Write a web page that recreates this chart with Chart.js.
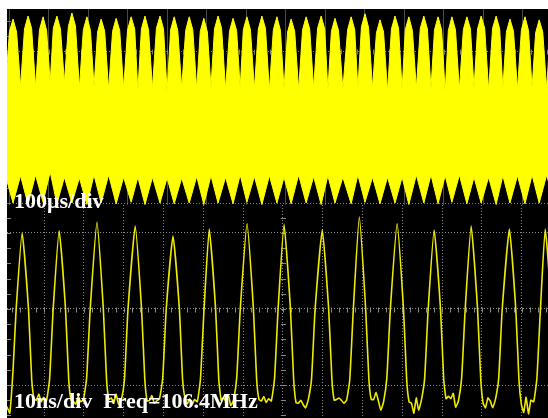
<!DOCTYPE html>
<html>
<head>
<meta charset="utf-8">
<title>Scope capture</title>
<script src="https://cdn.jsdelivr.net/npm/chart.js@4.4.1/dist/chart.umd.min.js"></script>
<style>
  body { margin: 0; background: #fff; }
  #screen { position: absolute; left: 7px; top: 9px; width: 541px; height: 409px; background: #000; overflow: hidden; }
  #screen canvas { position: absolute; left: 0; }
  #slow { top: 0; }
  #fast { top: 196px; }
  .label { position: absolute; left: 7px; color: #fff; font: bold 22px "Liberation Serif", "Times New Roman", serif; line-height: 22px; white-space: pre; }
</style>
</head>
<body>
<div id="screen">
  <canvas id="slow" width="541" height="196"></canvas>
  <canvas id="fast" width="541" height="213"></canvas>
  <div class="label" style="top:181px">100μs/div</div>
  <div class="label" style="top:381px">10ns/div  Freq=106.4MHz</div>
</div>
<script>
// upper trace, 100us/div: top edge of the carrier envelope (time in us, level in divisions)
const upperTime = [-10, 0, 9, 18, 28, 38, 47, 56, 66, 76, 85, 94, 103, 111, 120, 129, 139, 149, 158, 167, 177,
  187, 196, 205, 214, 223, 232, 241, 251, 261, 270, 279, 289, 299, 308, 317, 325, 334, 343, 352, 362,
  372, 381, 390, 399, 408, 417, 426, 436, 446, 455, 464, 474, 483, 492, 501, 510, 519, 528, 537, 547,
  557, 566, 575, 584, 592, 601, 610, 620, 630, 639, 648, 658, 668, 677, 686, 695, 704, 713, 722, 732,
  742, 751, 760, 770, 780, 789, 798, 806, 815, 824, 833, 844, 856, 865, 874, 882, 891, 900, 909, 919,
  929, 938, 947, 957, 967, 976, 985, 994, 1002, 1011, 1020, 1030, 1040, 1049, 1058, 1067, 1076, 1085, 1094, 1103,
  1111, 1120, 1129, 1139, 1149, 1158, 1167, 1176, 1185, 1194, 1203, 1213, 1223, 1232, 1241, 1249,
  1258, 1267, 1276, 1286, 1296, 1305, 1314, 1323, 1332, 1341, 1350, 1360, 1369, 1378];
const upperLevel = [0.55,
  1.26, 1.42, 1.25, 0.53, 1.29, 1.46, 1.30, 0.53, 1.28, 1.45, 1.27, 0.58, 1.30, 1.46, 1.29, 0.59,
  1.32, 1.50, 1.33, 0.51, 1.28, 1.45, 1.27, 0.53, 1.25, 1.42, 1.26, 0.49, 1.26, 1.43, 1.27, 0.51,
  1.28, 1.45, 1.29, 0.47, 1.29, 1.46, 1.28, 0.51, 1.30, 1.46, 1.29, 0.47, 1.28, 1.45, 1.27, 0.51,
  1.27, 1.45, 1.28, 0.50, 1.26, 1.43, 1.25, 0.52, 1.29, 1.46, 1.30, 0.49, 1.26, 1.43, 1.27, 0.51,
  1.28, 1.45, 1.28, 0.50, 1.29, 1.46, 1.30, 0.48, 1.28, 1.45, 1.27, 0.50, 1.25, 1.42, 1.26, 0.49,
  1.28, 1.45, 1.29, 0.51, 1.30, 1.46, 1.29, 0.48, 1.26, 1.43, 1.27, 0.50, 1.28, 1.45, 1.28, 0.50,
  1.32, 1.49, 1.31, 0.51, 1.24, 1.41, 1.25, 0.47, 1.29, 1.46, 1.30, 0.49, 1.28, 1.45, 1.27, 0.51,
  1.30, 1.46, 1.29, 0.50, 1.28, 1.45, 1.28, 0.46, 1.27, 1.45, 1.28, 0.49, 1.28, 1.45, 1.29, 0.51,
  1.29, 1.46, 1.30, 0.48, 1.30, 1.46, 1.29, 0.50, 1.25, 1.42, 1.26, 0.49, 1.28, 1.45, 1.27, 0.51,
  1.24, 1.41, 1.25, 0.50,
  1.27, 1.43];

// bottom edge of the envelope: dips under each crest, notches between them
const lowerTime = [-10, 9, 28, 47, 66, 85, 103, 120, 139, 158, 177, 196, 214, 232, 251, 270, 289, 308, 325,
  343, 362, 381, 399, 417, 436, 455, 474, 492, 510, 528, 547, 566, 584, 601, 620, 639, 658, 677, 695,
  713, 732, 751, 770, 789, 806, 824, 844, 865, 882, 900, 919, 938, 957, 976, 994, 1011, 1030, 1049, 1067,
  1085, 1103, 1120, 1139, 1158, 1176, 1194, 1213, 1232, 1249, 1267, 1286, 1305, 1323, 1341, 1360, 1378];
const lowerLevel = [-0.64, -1.00, -0.64, -1.02, -0.63, -0.99, -0.59, -1.01, -0.66, -1.00, -0.67, -1.02, -0.63,
  -1.00, -0.63, -1.01, -0.66, -0.99, -0.66, -1.02, -0.66, -1.00, -0.67, -1.01, -0.67, -1.00, -0.65, -1.02, -0.64,
  -1.00, -0.66, -1.01, -0.63, -0.99, -0.65, -1.02, -0.64, -1.00, -0.66, -1.01, -0.63, -1.00, -0.65, -1.02, -0.64,
  -1.00, -0.66, -1.01, -0.63, -0.99, -0.66, -1.01, -0.66, -1.00, -0.66, -1.02, -0.63, -1.00, -0.63, -1.01, -0.64,
  -0.99, -0.63, -1.01, -0.66, -1.00, -0.66, -1.02, -0.64, -1.00, -0.64, -1.01, -0.63, -1.00, -0.63, -1.00];

// lower trace, 10ns/div (time in ns, level in divisions)
const fastTime = [0.2, 0.8, 1.4, 2.2, 3.0,
  4.5, 6.1, 6.9, 7.5, 8.1, 8.7, 9.3, 9.9, 10.6, 11.4, 12.3,
  13.8, 15.4, 16.2, 16.8, 17.4, 18.0, 18.6, 19.2, 19.9, 20.7, 21.6,
  23.3, 24.9, 25.7, 26.3, 26.9, 27.5, 28.1, 28.7, 29.4, 30.2, 31.1,
  32.9, 34.5, 35.3, 35.9, 36.5, 37.1, 37.7, 38.3, 39.0, 39.8, 40.7,
  42.4, 44.0, 44.8, 45.4, 46.0, 46.6, 47.2, 47.8, 48.5, 49.3, 50.2,
  51.5, 53.1, 53.9, 54.5, 55.1, 55.7, 56.3, 56.9, 57.6, 58.4, 59.3,
  61.0, 62.6, 63.4, 64.0, 64.6, 65.2, 65.8, 66.4, 67.1, 67.9, 68.8,
  70.3, 71.9, 72.7, 73.3, 73.9, 74.5, 75.1, 75.7, 76.4, 77.2, 78.1,
  79.9, 81.5, 82.3, 82.9, 83.5, 84.1, 84.7, 85.3, 86.0, 86.8, 87.7,
  89.2, 90.8, 91.6, 92.2, 92.8, 93.4, 94.0, 94.6, 95.3, 96.1, 97.0,
  98.7, 100.3, 101.1, 101.7, 102.3, 102.9, 103.5, 104.1, 104.8, 105.6, 106.5,
  108.0, 109.6, 110.4, 111.0, 111.6, 112.2, 112.8, 113.4, 114.1, 114.9, 115.8,
  117.3, 118.9, 119.7, 120.3, 120.9, 121.5, 122.1, 122.7, 123.4, 124.2, 125.1,
  126.9, 128.5, 129.3, 129.9, 130.5, 131.1, 131.7, 132.3, 133.0, 133.8, 134.7,
  135.9, 137.5, 138.3];
const fastVolts = [-1.25, -1.30, -1.37, -0.82, 0,
  1.00, 0, -0.92, -1.18, -1.20, -1.12, -1.22, -1.16, -1.21, -0.92, 0,
  1.03, 0, -0.93, -1.20, -1.22, -1.25, -1.15, -1.22, -1.19, -0.91, 0,
  1.14, 0, -0.92, -1.19, -1.17, -1.24, -1.12, -1.25, -1.20, -0.93, 0,
  1.09, 0, -0.91, -1.21, -1.20, -1.14, -1.24, -1.21, -1.18, -0.92, 0,
  0.96, 0, -0.92, -1.18, -1.25, -1.18, -1.26, -1.19, -1.22, -0.92, 0,
  1.05, 0, -0.93, -1.20, -1.16, -1.22, -1.13, -1.27, -1.20, -0.91, 0,
  1.12, 0, -0.92, -1.19, -1.21, -1.15, -1.23, -1.18, -1.21, -0.92, 0,
  1.11, 0, -0.92, -1.23, -1.24, -1.20, -1.26, -1.30, -1.19, -0.92, 0,
  1.04, 0, -0.91, -1.20, -1.19, -1.17, -1.20, -1.24, -1.20, -0.93, 0,
  1.21, 0, -0.92, -1.19, -1.19, -1.10, -1.21, -1.33, -1.22, -0.92, 0,
  1.12, 0, -0.93, -1.22, -1.24, -1.37, -1.17, -1.33, -1.20, -0.92, 0,
  1.04, 0, -0.92, -1.18, -1.15, -1.18, -1.11, -1.29, -1.21, -0.91, 0,
  1.09, 0, -0.92, -1.24, -1.30, -1.17, -1.21, -1.30, -1.19, -0.92, 0,
  1.05, 0, -0.93, -1.25, -1.36, -1.16, -1.38, -1.20, -1.22, -0.92, 0,
  1.05, 0, -0.92];

const toPoints = (xs, ys) => xs.map((x, i) => ({x: x, y: ys[i]}));

// small graticule ticks along the centre lines, like on the scope screen
const scopeTicks = {
  id: 'scopeTicks',
  beforeDatasetsDraw(chart, args, opts) {
    const {ctx, chartArea, scales} = chart;
    const x = scales.x, y = scales.y;
    ctx.save();
    ctx.strokeStyle = opts.color || '#888';
    ctx.lineWidth = 1;
    ctx.beginPath();
    if (opts.yLine !== undefined) {
      const py = Math.round(y.getPixelForValue(opts.yLine)) + 0.5;
      for (let v = Math.ceil(x.min / opts.xStep) * opts.xStep; v <= x.max; v += opts.xStep) {
        const px = Math.round(x.getPixelForValue(v)) + 0.5;
        ctx.moveTo(px, py - 2);
        ctx.lineTo(px, py + 3);
      }
    }
    const cols = [chartArea.left + 1];
    if (opts.xLine !== undefined) cols.push(Math.round(x.getPixelForValue(opts.xLine)));
    for (const c of cols) {
      for (let v = Math.ceil(y.min / opts.yStep) * opts.yStep; v <= y.max; v += opts.yStep) {
        const py = Math.round(y.getPixelForValue(v)) + 0.5;
        ctx.moveTo(c - 2, py);
        ctx.lineTo(c + 3, py);
      }
    }
    ctx.stroke();
    ctx.restore();
  }
};

const axis = (min, max, step, color, dash) => ({
  type: 'linear',
  min: min,
  max: max,
  ticks: {display: false, stepSize: step, includeBounds: false},
  grid: {color: color, lineWidth: 1, drawTicks: false},
  border: {display: false, dash: dash}
});

new Chart(document.getElementById('slow'), {
  type: 'line',
  data: {
    datasets: [{
      data: toPoints(upperTime, upperLevel),
      borderColor: '#ffff00',
      backgroundColor: '#ffff00',
      borderWidth: 1,
      pointRadius: 0,
      tension: 0,
      fill: '+1'
    }, {
      data: toPoints(lowerTime, lowerLevel),
      borderColor: '#ffff00',
      borderWidth: 1,
      pointRadius: 0,
      tension: 0,
      fill: false
    }]
  },
  options: {
    responsive: false,
    animation: false,
    devicePixelRatio: 1,
    layout: {padding: 0},
    plugins: {
      legend: {display: false},
      tooltip: {enabled: false},
      scopeTicks: {yLine: 1, xStep: 20, yStep: 0.2, color: '#777'}
    },
    scales: {
      x: axis(-6.3, 1363.3, 100, '#4a4a4a', []),
      y: axis(-1.026, 1.553, 1, '#808080', [1, 2])
    }
  },
  plugins: [scopeTicks]
});

new Chart(document.getElementById('fast'), {
  type: 'line',
  data: {
    datasets: [{
      data: toPoints(fastTime, fastVolts),
      borderColor: '#eeea00',
      borderWidth: 1.6,
      pointRadius: 0,
      tension: 0.15,
      fill: false
    }]
  },
  options: {
    responsive: false,
    animation: false,
    devicePixelRatio: 1,
    layout: {padding: 0},
    plugins: {
      legend: {display: false},
      tooltip: {enabled: false},
      scopeTicks: {yLine: 0, xLine: 70, xStep: 2, yStep: 0.2, color: '#888'}
    },
    scales: {
      x: axis(0.7, 136.6, 10, '#8a8a8a', [1, 2]),
      y: axis(-1.434, 1.368, 1, '#8a8a8a', [1, 2])
    }
  },
  plugins: [scopeTicks]
});
</script>
</body>
</html>
